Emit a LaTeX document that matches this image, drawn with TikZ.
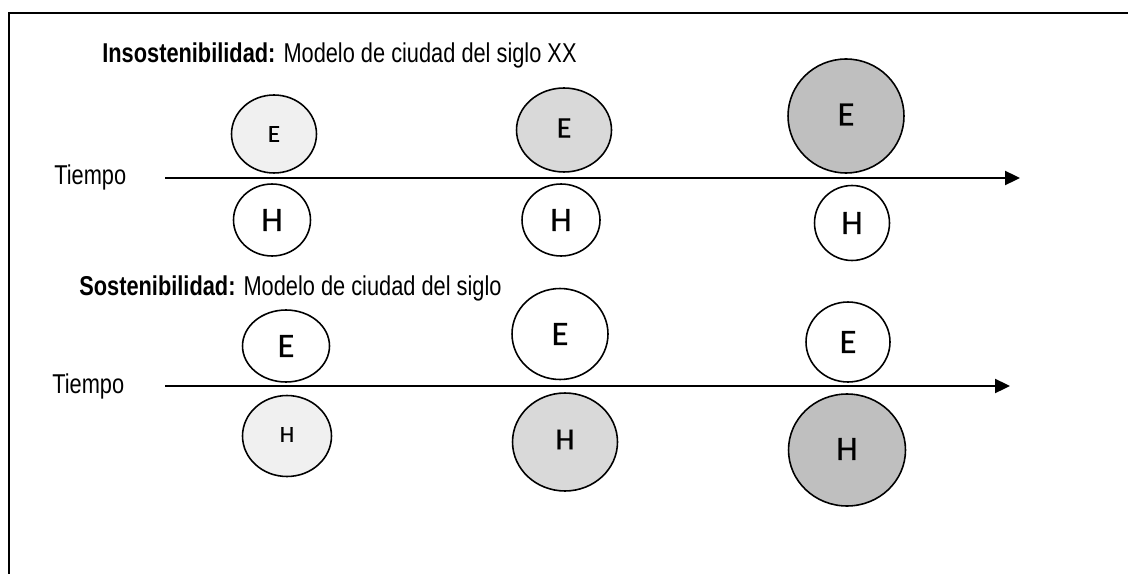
\documentclass[tikz,border=0pt]{standalone}
\usepackage{fontspec}
\usetikzlibrary{shapes.geometric,arrows.meta}
\newfontfamily\narrowfont{Liberation Sans}[FakeStretch=0.80]
\newfontfamily\letterfont{Carlito}[FakeBold=0.5]
\tikzset{
  blob/.style={ellipse, draw, line width=0.9pt, inner sep=0pt, font=\letterfont},
  timeaxis/.style={line width=1.3pt, -{Triangle[length=0.3cm,width=0.28cm]}},
  caption/.style={anchor=base west, inner sep=0pt, font=\narrowfont\fontsize{15.5}{18}\selectfont}
}
\begin{document}
\begin{tikzpicture}[x=0.02cm, y=-0.02cm]
  \useasboundingbox (0,0) rectangle (1128,574);

  % Grey levels of the circles
  \colorlet{lowgray}{black!6}
  \colorlet{midgray}{black!15}
  \colorlet{highgray}{black!25}

  % Open frame
  \draw[line width=1.1pt] (9,590) -- (9,13) -- (1140,13);

  % Upper model
  \node[caption] (insTitle) at (102,63) {\textbf{Insostenibilidad:} Modelo de ciudad del siglo XX};
  \node[caption] (insTime) at (54,185) {Tiempo};
  \coordinate (insStart) at (165,178);
  \coordinate (insEnd) at (1020,178);
  \draw[timeaxis] (insStart) -- (insEnd); % time axis

  \node[blob, fill=lowgray, minimum width=1.70cm, minimum height=1.56cm, font=\letterfont\fontsize{14}{16}\selectfont] (insE1) at (274,134) {E};
  \node[blob, fill=midgray, minimum width=1.90cm, minimum height=1.68cm, font=\letterfont\fontsize{17}{20}\selectfont] (insE2) at (564,130) {\raisebox{0.08cm}{E}};
  \node[blob, fill=highgray, minimum width=2.32cm, minimum height=2.28cm, font=\letterfont\fontsize{19.5}{22}\selectfont] (insE3) at (846,116) {\raisebox{0.06cm}{E}};

  \node[blob, minimum width=1.54cm, minimum height=1.44cm, font=\letterfont\fontsize{19.5}{22}\selectfont] (insH1) at (272,220) {\raisebox{-0.08cm}{H}};
  \node[blob, minimum width=1.56cm, minimum height=1.44cm, font=\letterfont\fontsize{19.5}{22}\selectfont] (insH2) at (561,220) {\raisebox{-0.08cm}{H}};
  \node[blob, minimum width=1.50cm, minimum height=1.50cm, font=\letterfont\fontsize{19.5}{22}\selectfont] (insH3) at (852,223) {\raisebox{-0.06cm}{H}};

  % Lower model
  \node[caption] (sosTitle) at (79,295) {\textbf{Sostenibilidad:} Modelo de ciudad del siglo};
  \node[caption] (sosTime) at (52,393) {Tiempo};
  \coordinate (sosStart) at (165,386);
  \coordinate (sosEnd) at (1010,386);
  \draw[timeaxis] (sosStart) -- (sosEnd); % time axis

  \node[blob, minimum width=1.74cm, minimum height=1.44cm, font=\letterfont\fontsize{19.5}{22}\selectfont] (sosE1) at (286,346) {\raisebox{-0.06cm}{E}};
  \node[blob, minimum width=1.92cm, minimum height=1.82cm, font=\letterfont\fontsize{19.5}{22}\selectfont] (sosE2) at (560,334) {E};
  \node[blob, minimum width=1.68cm, minimum height=1.60cm, font=\letterfont\fontsize{19.5}{22}\selectfont] (sosE3) at (848,342) {E};

  \node[blob, fill=lowgray, minimum width=1.78cm, minimum height=1.62cm, font=\letterfont\fontsize{13}{15}\selectfont] (sosH1) at (287,436) {\raisebox{0.06cm}{H}};
  \node[blob, fill=midgray, minimum width=2.10cm, minimum height=1.96cm, font=\letterfont\fontsize{17.5}{20}\selectfont] (sosH2) at (565,442) {\raisebox{0.1cm}{H}};
  \node[blob, fill=highgray, minimum width=2.34cm, minimum height=2.24cm, font=\letterfont\fontsize{19.5}{22}\selectfont] (sosH3) at (847,450) {\raisebox{0.04cm}{H}};

\end{tikzpicture}
\end{document}
